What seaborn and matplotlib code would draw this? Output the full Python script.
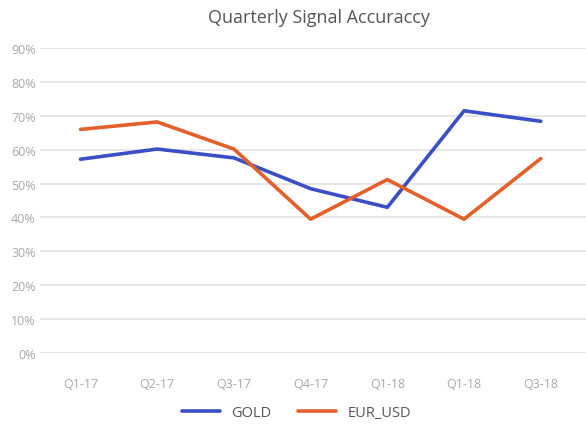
import matplotlib
matplotlib.use("Agg")
import matplotlib.pyplot as plt
import pandas as pd
import seaborn as sns
from matplotlib.ticker import FuncFormatter

quarters = ["Q1-17", "Q2-17", "Q3-17", "Q4-17", "Q1-18", "Q1-18", "Q3-18"]
gold = [57.2, 60.2, 57.6, 48.5, 43.0, 71.5, 68.4]
eur_usd = [66.0, 68.2, 60.2, 39.5, 51.2, 39.5, 57.4]

# long format, x as position since the labels repeat (Q1-18 twice)
df = pd.DataFrame({
    "pos": list(range(len(quarters))) * 2,
    "value": gold + eur_usd,
    "series": ["GOLD"] * len(gold) + ["EUR_USD"] * len(eur_usd),
})

sns.set_style("white")
plt.rcParams["font.family"] = ["Open Sans", "DejaVu Sans"]

fig = plt.figure(figsize=(5.86, 4.27), dpi=100)
ax = fig.add_axes([0.068, 0.171, 0.932, 0.714])

sns.lineplot(data=df, x="pos", y="value", hue="series",
             palette={"GOLD": "#3a4fc6", "EUR_USD": "#e3602b"},
             linewidth=2.6, ax=ax, legend=True)

ax.set_ylim(0, 90)
ax.set_xlim(-0.53, 6.59)
ax.set_yticks(range(0, 91, 10))
ax.yaxis.set_major_formatter(FuncFormatter(lambda v, p: f"{int(v)}%"))
ax.set_xticks(range(len(quarters)))
ax.set_xticklabels(quarters)
ax.grid(axis="y", color="#e2e2e2", linewidth=1.2)
ax.set_axisbelow(True)
for s in ax.spines.values():
    s.set_visible(False)
ax.tick_params(axis="both", length=0, labelsize=9, labelcolor="#a8a8a8")
ax.tick_params(axis="x", pad=17)
ax.tick_params(axis="y", pad=3)
ax.set_xlabel("")
ax.set_ylabel("")

fig.text(0.545, 0.957, "Quarterly Signal Accuraccy", ha="center", va="center",
         fontsize=13, color="#555555")

handles, labels = ax.get_legend_handles_labels()
ax.legend(handles, labels, loc="center", bbox_to_anchor=(0.47, -0.195),
          ncol=2, frameon=False, fontsize=10.5, handlelength=2.6,
          columnspacing=1.8, labelcolor="#555555")

fig.savefig("out.png", dpi=100)
